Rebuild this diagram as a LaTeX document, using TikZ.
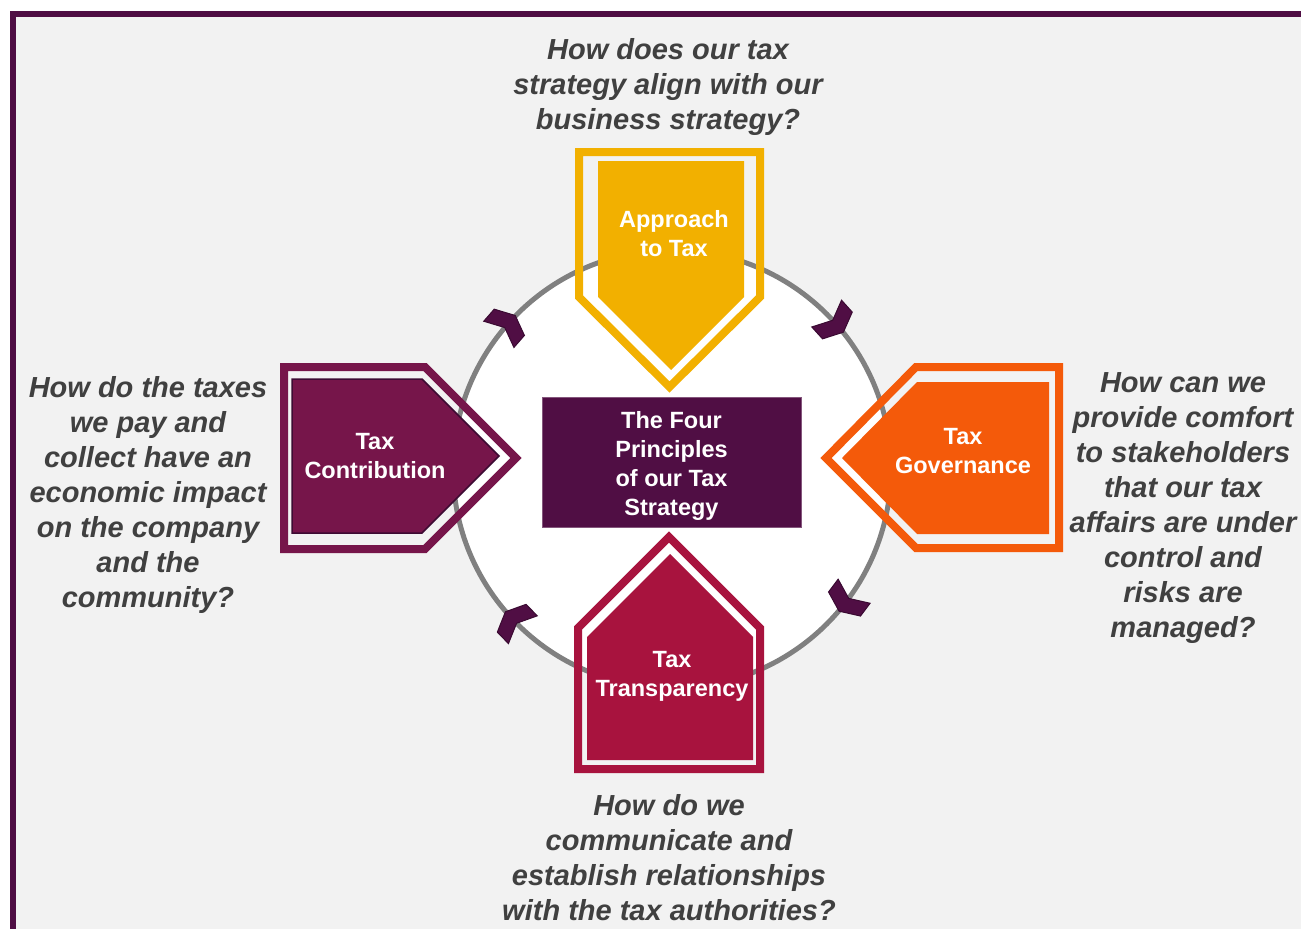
\documentclass[tikz,border=0pt]{standalone}
\usepackage{fontspec}
\setmainfont{Liberation Sans}
\usepackage{tikz}

\definecolor{bggray}{HTML}{F2F2F2}
\definecolor{framepurple}{HTML}{4F0E44}
\definecolor{ringgray}{HTML}{808080}
\definecolor{qgray}{HTML}{404040}
\definecolor{approachcol}{HTML}{F2B000}
\definecolor{governcol}{HTML}{F45A0A}
\definecolor{transpcol}{HTML}{A8133E}
\definecolor{contribcol}{HTML}{76154A}
\definecolor{contribedge}{HTML}{3D0B33}
\definecolor{corecol}{HTML}{500E44}
\definecolor{chevedge}{HTML}{3A0A32}

\begin{document}
\begin{tikzpicture}[x=1pt,y=-1pt,
  question/.style={align=center,text=qgray,inner sep=0pt,
    font=\fontsize{29}{35}\selectfont\bfseries\itshape},
  pname/.style={align=center,text=white,inner sep=0pt,
    font=\fontsize{23.5}{29}\selectfont\bfseries},
  outline/.style={line width=8pt,line join=miter},
  chev/.style={fill=corecol,draw=chevedge,line width=1pt},
  chevron/.pic={\filldraw[chev] (13,0) -- (4,20) -- (-12,20) -- (-3,0) -- (-12,-20) -- (4,-20) -- cycle;}]
\useasboundingbox (0,0) rectangle (1301,929);
\fill[bggray] (10,11) rectangle (1301,929);
\fill[framepurple] (10,11) rectangle (16,929);
\fill[framepurple] (10,11) rectangle (1301,17);

\filldraw[fill=white,draw=ringgray,line width=5pt] (672,469) circle [radius=219pt];

\pic[rotate=49] at (506.7,325.3) {chevron};
\pic[rotate=-48] at (834.7,322.5) {chevron};
\pic[rotate=-127] at (846.9,600.8) {chevron};
\pic[rotate=134] at (514.5,621.1) {chevron};

\draw[approachcol,outline] (579,152) -- (760,152) -- (760,297) -- (669.5,387) -- (579,297) -- cycle;
\fill[approachcol] (598,161) -- (744,161) -- (744,297) -- (671,370) -- (598,297) -- cycle;
\node[pname] (approach) at (674,234) {Approach\\to Tax};

\draw[contribcol,outline] (284,367) -- (425,367) -- (516,458) -- (425,549) -- (284,549) -- cycle;
\filldraw[fill=contribcol,draw=contribedge,line width=1.5pt] (292,379) -- (422,379) -- (499,456) -- (422,533) -- (292,533) -- cycle;
\node[pname] (contrib) at (375,456) {Tax\\Contribution};

\draw[governcol,outline] (1059,367) -- (916,367) -- (826,458) -- (916,548) -- (1059,548) -- cycle;
\fill[governcol] (1049,382) -- (917,382) -- (842,458) -- (917,534) -- (1049,534) -- cycle;
\node[pname] (govern) at (963,451) {Tax\\Governance};

\draw[transpcol,outline] (578,769) -- (578,628) -- (669,537) -- (760,628) -- (760,769) -- cycle;
\fill[transpcol] (587,760) -- (587,637) -- (670,554) -- (753,637) -- (753,760) -- cycle;
\node[pname] (transp) at (672,676) {Tax\\Transparency};

\filldraw[fill=corecol,draw=corecol!70!white,line width=1pt] (542,397) rectangle (801,527);
\node[pname] (core) at (671.5,466) {The Four\\Principles\\of our Tax\\Strategy};

\node[question] (qtop) at (668,87) {How does our tax\\strategy align with our\\business strategy?};
\node[question] (qleft) at (148,495) {How do the taxes\\we pay and\\collect have an\\economic impact\\on the company\\and the\\community?};
\node[question] (qright) at (1183,508) {How can we\\provide comfort\\to stakeholders\\that our tax\\affairs are under\\control and\\risks are\\managed?};
\node[question] (qbottom) at (669,858) {How do we\\communicate and\\establish relationships\\with the tax authorities?};
\end{tikzpicture}
\end{document}
